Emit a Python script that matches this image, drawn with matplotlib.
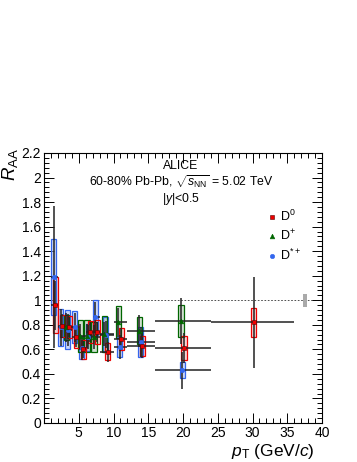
import matplotlib
matplotlib.use("Agg")
import matplotlib.pyplot as plt
from matplotlib.ticker import MultipleLocator
import numpy as np

plt.rcParams['font.family'] = ['Liberation Sans', 'DejaVu Sans']
plt.rcParams['mathtext.fontset'] = 'custom'
plt.rcParams['mathtext.rm'] = 'Liberation Sans'
plt.rcParams['mathtext.it'] = 'Liberation Sans:italic'

# pT bins (GeV/c)
d0_lo = [1, 2, 3, 4, 5, 6, 7, 8, 10, 12, 16, 24]
d0_hi = [2, 3, 4, 5, 6, 7, 8, 10, 12, 16, 24, 36]
d0_raa = [0.96, 0.79, 0.78, 0.70, 0.60, 0.74, 0.74, 0.58, 0.685, 0.63, 0.61, 0.82]
d0_stat = [0.20, 0.10, 0.08, 0.08, 0.07, 0.08, 0.08, 0.08, 0.09, 0.10, 0.12, 0.37]
d0_sys = [0.23, 0.09, 0.09, 0.09, 0.08, 0.09, 0.10, 0.07, 0.09, 0.08, 0.10, 0.12]

dp_lo = [3, 5, 6, 7, 8, 10, 12, 16]
dp_hi = [4, 6, 7, 8, 10, 12, 16, 24]
dp_raa = [0.78, 0.71, 0.71, 0.70, 0.725, 0.82, 0.75, 0.83]
dp_stat = [0.12, 0.10, 0.10, 0.10, 0.10, 0.12, 0.13, 0.19]
dp_sys = [0.10, 0.13, 0.13, 0.12, 0.145, 0.13, 0.11, 0.13]

ds_lo = [1, 2, 3, 4, 5, 6, 7, 8, 10, 12, 16]
ds_hi = [2, 3, 4, 5, 6, 7, 8, 10, 12, 16, 24]
ds_raa = [1.19, 0.78, 0.76, 0.78, 0.61, 0.70, 0.86, 0.72, 0.62, 0.66, 0.43]
ds_stat = [0.58, 0.15, 0.13, 0.12, 0.10, 0.10, 0.13, 0.11, 0.10, 0.12, 0.15]
ds_sys = [0.31, 0.15, 0.16, 0.13, 0.09, 0.11, 0.14, 0.14, 0.08, 0.12, 0.065]

norm_unc = 0.055

fig = plt.figure(figsize=(3.57, 4.62), dpi=100)
fig.patch.set_facecolor('white')
ax = fig.add_axes([44/357, 39/462, 278/357, 270/462])

series = [
    # lo, hi, raa, stat, sys, shift, color, fill, marker, ms, label
    (ds_lo, ds_hi, ds_raa, ds_stat, ds_sys, -0.1, '#3366ee', '#9db5f2', 'o', 3.2, r'D$^{*+}$'),
    (dp_lo, dp_hi, dp_raa, dp_stat, dp_sys, -0.3, '#006600', '#a8c8a8', '^', 3.4, r'D$^{+}$'),
    (d0_lo, d0_hi, d0_raa, d0_stat, d0_sys, 0.15, '#ee0000', '#f5b0b0', 's', 3.2, r'D$^{0}$'),
]

handles = {}
for lo, hi, raa, stat, sys, shift, col, fc, mk, ms, lab in series:
    lo = np.array(lo, float)
    hi = np.array(hi, float)
    raa = np.array(raa)
    sys = np.array(sys)
    x = (lo + hi) / 2 + shift
    ax.bar(x, 2 * sys, bottom=raa - sys, width=0.75, color=fc, alpha=0.55,
           edgecolor='none', zorder=2)
    ax.bar(x, 2 * sys, bottom=raa - sys, width=0.75, fill=False,
           edgecolor=col, linewidth=0.9, zorder=3)
    ax.errorbar(x, raa, yerr=stat, xerr=[x - lo, hi - x], fmt='none',
                ecolor='#222222', elinewidth=1.1, capsize=0, zorder=4)
    h = ax.plot(x, raa, linestyle='none', marker=mk, ms=ms, color=col,
                mec='#550000' if mk == 's' else col, mew=0.4, zorder=5)[0]
    handles[lab] = h

# normalisation uncertainty box
ax.bar([37.5], [2 * norm_unc], bottom=1 - norm_unc, width=0.6, color='#aaaaaa',
       edgecolor='none', zorder=2)
ax.axhline(1.0, color='#333333', lw=0.6, ls=(0, (2, 2)), zorder=1)

ax.set_xlim(0, 40)
ax.set_ylim(0, 2.2)
ax.xaxis.set_major_locator(MultipleLocator(5))
ax.xaxis.set_minor_locator(MultipleLocator(1))
ax.yaxis.set_major_locator(MultipleLocator(0.2))
ax.yaxis.set_minor_locator(MultipleLocator(0.04))
ax.tick_params(which='both', direction='in', top=True, right=True,
               labelsize=10, width=0.7)
ax.tick_params(which='major', length=7, pad=2)
ax.tick_params(which='minor', length=3.5)
ax.set_xticks([5, 10, 15, 20, 25, 30, 35, 40])
ax.set_yticks([0, 0.2, 0.4, 0.6, 0.8, 1, 1.2, 1.4, 1.6, 1.8, 2, 2.2])
ax.set_yticklabels(['0', '0.2', '0.4', '0.6', '0.8', '1', '1.2', '1.4', '1.6',
                    '1.8', '2', '2.2'])
for s in ax.spines.values():
    s.set_linewidth(0.8)

ax.text(-0.122, 1.02, r'$R_{\rm AA}$', transform=ax.transAxes, rotation=90,
        ha='center', va='top', fontsize=13.5)
ax.text(0.975, -0.106, r'$p_{\rm T}$ (GeV/$c$)', transform=ax.transAxes,
        ha='right', va='center', fontsize=12.5)

ax.text(0.492, 0.952, 'ALICE', transform=ax.transAxes, ha='center',
        va='center', fontsize=8.8)
ax.text(0.492, 0.895, r'60-80% Pb-Pb, $\sqrt{s_{\rm NN}}$ = 5.02 TeV',
        transform=ax.transAxes, ha='center', va='center', fontsize=8.8)
ax.text(0.492, 0.830, r'|$y$|<0.5', transform=ax.transAxes, ha='center',
        va='center', fontsize=8.8)

leg = ax.legend([handles[r'D$^{0}$'], handles[r'D$^{+}$'], handles[r'D$^{*+}$']],
                [r'D$^{0}$', r'D$^{+}$', r'D$^{*+}$'],
                loc='upper left', bbox_to_anchor=(0.79, 0.812), frameon=False,
                fontsize=9, handlelength=0.6, handletextpad=0.3,
                labelspacing=0.35, borderaxespad=0)

fig.savefig('out.png', dpi=100, facecolor='white')
